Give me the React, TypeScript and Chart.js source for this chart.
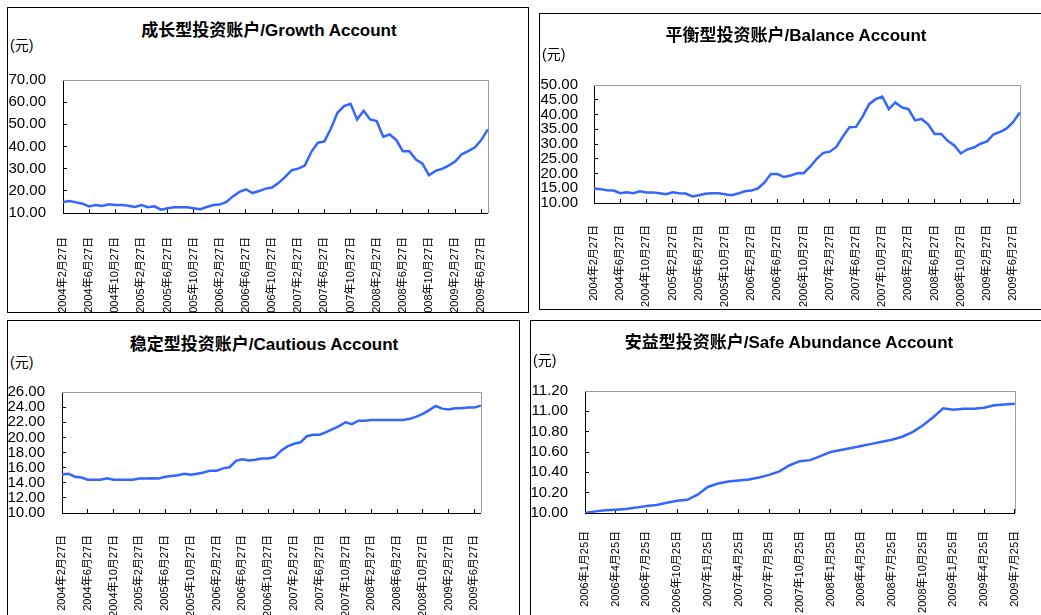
import React, { useEffect, useRef } from 'react';
import { Chart, registerables } from 'chart.js';

Chart.register(...registerables);

const FONT = '"Liberation Sans", Arial, "Noto Sans CJK SC", sans-serif';
const LINE_COLOR = 'rgb(51,102,255)';

function monthly(y0: number, m0: number, day: number, n: number): string[] {
  const out: string[] = [];
  let y = y0;
  let m = m0;
  for (let i = 0; i < n; i++) {
    out.push(`${y}年${m}月${day}日`);
    m++;
    if (m > 12) { m = 1; y++; }
  }
  return out;
}

// Categories (monthly valuation dates)
const accountDates = monthly(2004, 2, 27, 66);
const safeDates = monthly(2006, 1, 25, 43);

// Series values (元)
const growthValues = [
  15.0, 15.4, 14.8, 14.2, 13.0, 13.6, 13.2, 13.9, 13.6, 13.6,
  13.3, 12.7, 13.6, 12.6, 13.0, 11.5, 12.1, 12.6, 12.6, 12.6,
  12.1, 11.7, 12.7, 13.6, 13.8, 15.0, 17.5, 19.5, 20.7, 19.0,
  19.9, 21.0, 21.5, 23.6, 26.3, 29.3, 30.0, 31.4, 37.6, 41.7,
  42.3, 48.1, 55.2, 58.2, 59.3, 52.2, 56.1, 52.2, 51.5, 44.4,
  45.4, 42.9, 37.9, 37.9, 34.1, 32.3, 27.0, 29.0, 29.9, 31.4,
  33.2, 36.5, 37.9, 39.5, 42.9, 47.7,
];

const balanceValues = [
  14.9, 14.7, 14.3, 14.2, 13.3, 13.6, 13.3, 14.0, 13.6, 13.6,
  13.3, 13.0, 13.6, 13.3, 13.2, 12.2, 12.6, 13.1, 13.3, 13.3,
  13.0, 12.6, 13.2, 14.0, 14.2, 14.9, 16.9, 19.8, 19.8, 18.8,
  19.3, 20.1, 20.1, 22.3, 25.0, 27.0, 27.4, 29.0, 32.6, 35.7,
  35.8, 39.3, 43.5, 45.2, 46.1, 41.8, 44.1, 42.4, 41.8, 38.0,
  38.5, 36.7, 33.4, 33.4, 31.1, 29.5, 26.8, 28.2, 28.8, 30.1,
  30.9, 33.3, 34.1, 35.3, 37.5, 40.7,
];

const cautiousValues = [
  15.08, 15.2, 14.8, 14.7, 14.4, 14.4, 14.4, 14.6, 14.4, 14.4,
  14.4, 14.4, 14.55, 14.55, 14.6, 14.55, 14.8, 14.9, 15.0, 15.2,
  15.05, 15.2, 15.35, 15.6, 15.6, 15.9, 16.05, 16.9, 17.1, 16.95,
  17.05, 17.2, 17.2, 17.4, 18.25, 18.8, 19.15, 19.35, 20.15, 20.35,
  20.35, 20.7, 21.1, 21.5, 22.0, 21.75, 22.2, 22.2, 22.3, 22.3,
  22.3, 22.3, 22.3, 22.3, 22.45, 22.75, 23.1, 23.6, 24.15, 23.8,
  23.7, 23.85, 23.85, 23.95, 23.95, 24.2,
];

const safeValues = [
  10.0, 10.016, 10.026, 10.033, 10.04, 10.053, 10.069, 10.079, 10.1, 10.12,
  10.13, 10.18, 10.256, 10.29, 10.31, 10.32, 10.33, 10.35, 10.375, 10.41,
  10.47, 10.51, 10.52, 10.56, 10.6, 10.62, 10.64, 10.66, 10.68, 10.7,
  10.72, 10.75, 10.795, 10.86, 10.94, 11.03, 11.016, 11.026, 11.026, 11.036,
  11.059, 11.068, 11.075,
];

// Titles and axis settings
const titles = [
  '成长型投资账户/Growth Account',
  '平衡型投资账户/Balance Account',
  '稳定型投资账户/Cautious Account',
  '安益型投资账户/Safe Abundance Account',
];
const unitLabel = '(元)';
const yRanges = [
  [10, 70, 10],
  [10, 50, 5],
  [10, 26, 2],
  [10, 11.2, 0.2],
];
const labelEvery = [4, 4, 4, 3];

type Box = { x: number; y: number; w: number; h: number };
type Plot = { l: number; t: number; r: number; b: number };

interface PanelProps {
  box: Box;
  plot: Plot;
  title: string;
  titleC: [number, number];
  unitPos: [number, number];
  labels: string[];
  values: number[];
  range: number[];
  every: number;
  yPad: number;
  xPad: number;
}

const framePlugin = {
  id: 'grayFrame',
  beforeDatasetsDraw(chart: any) {
    const { ctx, chartArea: a } = chart;
    ctx.save();
    ctx.strokeStyle = '#9c9c9c';
    ctx.lineWidth = 1;
    ctx.beginPath();
    ctx.moveTo(a.left, Math.round(a.top) + 0.5);
    ctx.lineTo(Math.round(a.right) + 0.5, Math.round(a.top) + 0.5);
    ctx.lineTo(Math.round(a.right) + 0.5, a.bottom);
    ctx.stroke();
    ctx.restore();
  },
};

function Panel(p: PanelProps) {
  const ref = useRef<HTMLCanvasElement | null>(null);
  useEffect(() => {
    const canvas = ref.current;
    if (!canvas) return;
    const L = p.plot.l - p.box.x;
    const T = p.plot.t - p.box.y;
    const R = p.plot.r - p.box.x;
    const B = p.plot.b - p.box.y;
    const [ymin, ymax, step] = p.range;
    const chart = new Chart(canvas, {
      type: 'line',
      data: {
        labels: p.labels,
        datasets: [
          {
            data: p.values,
            borderColor: LINE_COLOR,
            borderWidth: 2.5,
            pointRadius: 0,
            pointHoverRadius: 0,
            fill: false,
            tension: 0,
          },
        ],
      },
      options: {
        animation: false,
        responsive: false,
        devicePixelRatio: 1,
        events: [],
        layout: {
          autoPadding: false,
          padding: { top: T, left: 0, right: p.box.w - R, bottom: 0 },
        },
        plugins: {
          legend: { display: false },
          tooltip: { enabled: false },
          title: { display: false },
        },
        scales: {
          x: {
            offset: false,
            border: { color: '#000', width: 1 },
            grid: {
              drawOnChartArea: false,
              drawTicks: true,
              tickLength: -4,
              tickWidth: 1,
              tickColor: (ctx: any) => (ctx.index % p.every === 0 ? '#000' : 'rgba(0,0,0,0)'),
            },
            ticks: {
              autoSkip: false,
              maxRotation: 90,
              minRotation: 90,
              padding: p.xPad,
              color: '#000',
              font: { family: FONT, size: 11 },
              callback: function (this: any, v: any, i: number) {
                return i % p.every === 0 ? this.getLabelForValue(v) : '';
              },
            },
            afterFit: (s: any) => { s.height = p.box.h - B; },
          },
          y: {
            min: ymin,
            max: ymax,
            border: { color: '#000', width: 1 },
            grid: {
              drawOnChartArea: false,
              drawTicks: true,
              tickLength: -4,
              tickColor: '#000',
            },
            ticks: {
              stepSize: step,
              autoSkip: false,
              padding: p.yPad,
              color: '#000',
              font: { family: FONT, size: 15 },
              callback: (v: any) => Number(v).toFixed(2),
            },
            afterFit: (s: any) => { s.width = L; },
          },
        },
      },
      plugins: [framePlugin],
    } as any);
    return () => chart.destroy();
  }, []);

  return (
    <>
      <div
        style={{
          position: 'absolute',
          left: p.box.x,
          top: p.box.y,
          width: p.box.w,
          height: p.box.h,
          border: '1px solid #000',
          boxSizing: 'border-box',
          background: '#fff',
        }}
      />
      <div
        style={{
          position: 'absolute',
          left: p.titleC[0] - 300,
          top: p.titleC[1] - 11,
          width: 600,
          height: 22,
          lineHeight: '22px',
          textAlign: 'center',
          fontFamily: FONT,
          fontWeight: 'bold',
          fontSize: 17,
          color: '#000',
          whiteSpace: 'nowrap',
        }}
      >
        {p.title}
      </div>
      <div
        style={{
          position: 'absolute',
          left: p.unitPos[0],
          top: p.unitPos[1] - 9,
          height: 18,
          lineHeight: '18px',
          fontFamily: FONT,
          fontSize: 14,
          color: '#000',
          whiteSpace: 'nowrap',
        }}
      >
        {unitLabel}
      </div>
      <canvas
        ref={ref}
        width={p.box.w}
        height={p.box.h}
        style={{
          position: 'absolute',
          left: p.box.x,
          top: p.box.y,
          width: p.box.w,
          height: p.box.h,
          display: 'block',
        }}
      />
    </>
  );
}

export default function App() {
  const panels: PanelProps[] = [
    {
      box: { x: 7, y: 7, w: 522, h: 306 },
      plot: { l: 63, t: 80, r: 512, b: 213 },
      title: titles[0],
      titleC: [269, 31],
      unitPos: [10, 45],
      labels: accountDates,
      values: growthValues,
      range: yRanges[0],
      every: labelEvery[0],
      yPad: 21,
      xPad: 28,
    },
    {
      box: { x: 539, y: 13, w: 520, h: 297 },
      plot: { l: 594, t: 85, r: 1034, b: 203 },
      title: titles[1],
      titleC: [796, 36],
      unitPos: [542, 54],
      labels: accountDates,
      values: balanceValues,
      range: yRanges[1],
      every: labelEvery[1],
      yPad: 20,
      xPad: 26,
    },
    {
      box: { x: 7, y: 320, w: 513, h: 310 },
      plot: { l: 62, t: 392, r: 503, b: 513 },
      title: titles[2],
      titleC: [264, 345],
      unitPos: [10, 362],
      labels: accountDates,
      values: cautiousValues,
      range: yRanges[2],
      every: labelEvery[2],
      yPad: 21,
      xPad: 26,
    },
    {
      box: { x: 530, y: 320, w: 520, h: 310 },
      plot: { l: 585, t: 391, r: 1028, b: 513 },
      title: titles[3],
      titleC: [789, 343],
      unitPos: [533, 360],
      labels: safeDates,
      values: safeValues,
      range: yRanges[3],
      every: labelEvery[3],
      yPad: 21,
      xPad: 22,
    },
  ];
  return (
    <div
      style={{
        position: 'absolute',
        left: 0,
        top: 0,
        width: 1041,
        height: 615,
        overflow: 'hidden',
        background: '#fff',
      }}
    >
      {panels.map((p, i) => (
        <Panel key={i} {...p} />
      ))}
    </div>
  );
}
